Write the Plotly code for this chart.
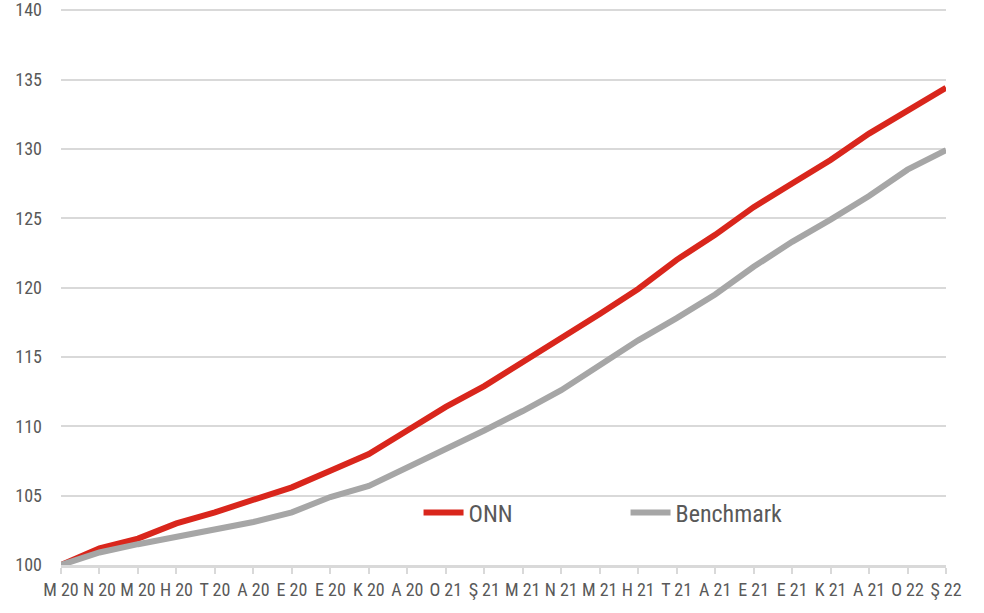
import plotly.graph_objects as go

months = ["M 20", "N 20", "M 20", "H 20", "T 20", "A 20", "E 20", "E 20", "K 20", "A 20",
          "O 21", "Ş 21", "M 21", "N 21", "M 21", "H 21", "T 21", "A 21", "E 21", "E 21",
          "K 21", "A 21", "O 22", "Ş 22"]
onn = [100.0, 101.2, 101.9, 103.0, 103.8, 104.7, 105.6, 106.8, 108.0, 109.7,
       111.4, 112.9, 114.6, 116.4, 118.1, 119.9, 122.0, 123.8, 125.8, 127.5,
       129.2, 131.1, 132.7, 134.4]
benchmark = [100.0, 100.9, 101.5, 102.0, 102.5, 103.1, 103.8, 104.9, 105.7, 107.0,
             108.4, 109.7, 111.1, 112.6, 114.4, 116.2, 117.8, 119.5, 121.5, 123.3,
             124.9, 126.6, 128.5, 129.9]
y_ticks = [100, 105, 110, 115, 120, 125, 130, 135, 140]

x = list(range(len(months)))
font_family = "Liberation Sans Narrow, Roboto Condensed, Open Sans, sans-serif"

fig = go.Figure()
fig.add_trace(go.Scatter(x=x, y=onn, name="ONN", mode="lines",
                         line=dict(color="#d9261c", width=6)))
fig.add_trace(go.Scatter(x=x, y=benchmark, name="Benchmark", mode="lines",
                         line=dict(color="#a6a6a6", width=6)))

fig.update_layout(
    width=984, height=613,
    margin=dict(l=61, r=38, t=6, b=48, autoexpand=False),
    paper_bgcolor="white", plot_bgcolor="white",
    font=dict(family=font_family, color="#595959", size=17),
    legend=dict(orientation="h", x=0.404, y=0.093, xanchor="left", yanchor="middle",
                font=dict(size=24, color="#595959"), bgcolor="rgba(0,0,0,0)",
                entrywidth=152, entrywidthmode="pixels", itemwidth=40),
    xaxis=dict(range=[0, 23], tickmode="array", tickvals=x, ticktext=months,
               showgrid=False, showline=True, linecolor="#d9d9d9", linewidth=3,
               ticks="outside", ticklen=6, tickcolor="#d9d9d9", tickwidth=1.5,
               tickangle=0, tickfont=dict(size=18, color="#595959"), zeroline=False),
    yaxis=dict(range=[100, 140.3], tickvals=y_ticks, showgrid=True, gridcolor="#d9d9d9",
               gridwidth=2, zeroline=False, showline=False, ticks="",
               ticklabelstandoff=18, ticklabeloverflow="allow",
               tickfont=dict(size=18, color="#595959")),
)

fig.write_html("out.html", config={"displayModeBar": False},
               post_script="document.body.style.margin='0';document.body.style.overflow='hidden';")
